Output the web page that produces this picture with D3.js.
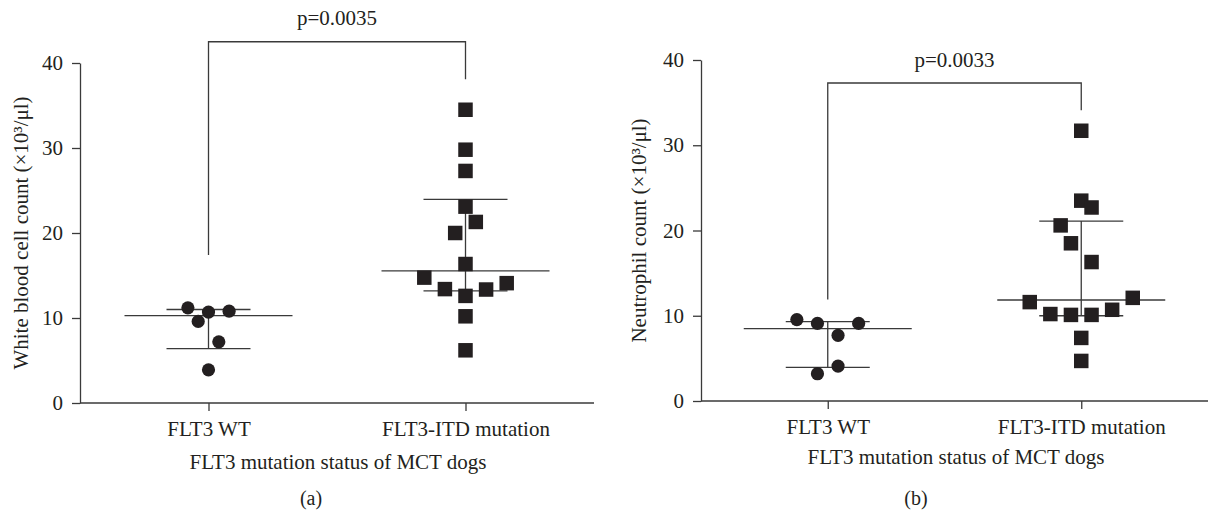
<!DOCTYPE html>
<html>
<head>
<meta charset="utf-8">
<script src="https://cdn.jsdelivr.net/npm/d3@7"></script>
<style>
  body { margin: 0; background: #fff; }
  text { font-family: "Liberation Serif", "Times New Roman", serif; fill: #231f20; }
</style>
</head>
<body>
<div id="chart"></div>
<script>
// Categories and ticks
const groups = ["FLT3 WT", "FLT3-ITD mutation"];
const yTicks = [0, 10, 20, 30, 40];

// (a) white blood cell count, x10^3/ul
const wbcWT = [11.2, 10.7, 10.8, 9.6, 7.2, 3.9];
const wbcWTSlot = [-2, 0, 2, -1, 1, 0];
const wbcITD = [34.5, 29.8, 27.3, 23.1, 21.3, 20.0, 16.35, 14.75, 13.4, 13.35, 14.1, 12.6, 10.2, 6.2];
const wbcITDSlot = [0, 0, 0, 0, 1, -1, 0, -4, -2, 2, 4, 0, 0, 0];
// [median, upper, lower] per group
const wbcSummary = [[10.27, 11.0, 6.4], [15.55, 23.96, 13.18]];
// bracket: top, left leg end, right leg end
const wbcBracket = [42.5, 17.4, 38.1];
const wbcP = "p=0.0035";

// (b) neutrophil count, x10^3/ul
const neuWT = [9.55, 9.1, 9.1, 7.7, 4.1, 3.2];
const neuWTSlot = [-3, -1, 3, 1, 1, -1];
const neuITD = [31.7, 23.5, 22.7, 20.6, 18.5, 16.3, 11.6, 12.1, 10.2, 10.1, 10.1, 10.7, 7.4, 4.7];
const neuITDSlot = [0, 0, 1, -2, -1, 1, -5, 5, -3, -1, 1, 3, 0, 0];
const neuSummary = [[8.5, 9.3, 3.95], [11.85, 21.1, 10.0]];
const neuBracket = [37.3, 11.9, 34.1];
const neuP = "p=0.0033";

const ink = "#231f20";
const lineCol = "#3a3a3a";
const fs = 21;

const svg = d3.select("#chart")
  .append("svg")
  .attr("width", 1208)
  .attr("height", 511);

// Draw one panel
const drawPanel = (p) => {
  const g = svg.append("g");

  const xScale = d3.scalePoint()
    .domain(groups)
    .range([p.left, p.right])
    .padding(0.5);

  const yScale = d3.scaleLinear()
    .domain([0, 40])
    .range([p.bottom, p.top]);

  const slotScale = d3.scaleLinear()
    .domain([0, 1])
    .range([0, 10.3]);

  // axes
  const yAxis = g.append("g")
    .attr("transform", `translate(${p.left},0)`)
    .call(d3.axisLeft(yScale).tickValues(yTicks).tickSize(8).tickSizeOuter(0).tickPadding(9));

  const xAxis = g.append("g")
    .attr("transform", `translate(0,${p.bottom})`)
    .call(d3.axisBottom(xScale).tickSize(8).tickSizeOuter(0).tickPadding(10));
  xAxis.select(".domain").attr("d", `M${p.left},0H${p.right}`);

  [yAxis, xAxis].forEach(a => {
    a.selectAll("path, line").attr("stroke", lineCol).attr("stroke-width", 1.3);
    a.selectAll("text")
      .attr("font-size", fs)
      .attr("font-family", "Liberation Serif")
      .attr("fill", ink);
  });

  // summary lines: long median, short whiskers, vertical bar
  p.summary.forEach((s, i) => {
    const cx = xScale(groups[i]);
    g.append("line")
      .attr("x1", cx - 84).attr("x2", cx + 84)
      .attr("y1", yScale(s[0])).attr("y2", yScale(s[0]))
      .attr("stroke", lineCol).attr("stroke-width", 1.3);
    [s[1], s[2]].forEach(v => {
      g.append("line")
        .attr("x1", cx - 42).attr("x2", cx + 42)
        .attr("y1", yScale(v)).attr("y2", yScale(v))
        .attr("stroke", lineCol).attr("stroke-width", 1.3);
    });
    g.append("line")
      .attr("x1", cx).attr("x2", cx)
      .attr("y1", yScale(s[1])).attr("y2", yScale(s[2]))
      .attr("stroke", lineCol).attr("stroke-width", 1.3);
  });

  // circles for WT
  const wt = p.wt.map((v, i) => ({ v, s: p.wtSlot[i] }));
  g.selectAll("circle")
    .data(wt)
    .join("circle")
      .attr("cx", d => xScale(groups[0]) + slotScale(d.s))
      .attr("cy", d => yScale(d.v))
      .attr("r", 6.6)
      .attr("fill", ink);

  // squares for ITD
  const sq = 14.5;
  const itd = p.itd.map((v, i) => ({ v, s: p.itdSlot[i] }));
  g.selectAll("rect.pt")
    .data(itd)
    .join("rect")
      .attr("class", "pt")
      .attr("x", d => xScale(groups[1]) + slotScale(d.s) - sq / 2)
      .attr("y", d => yScale(d.v) - sq / 2)
      .attr("width", sq)
      .attr("height", sq)
      .attr("fill", ink);

  // significance bracket
  const bx0 = xScale(groups[0]), bx1 = xScale(groups[1]);
  g.append("path")
    .attr("d", `M${bx0},${yScale(p.bracket[1])}V${yScale(p.bracket[0])}H${bx1}V${yScale(p.bracket[2])}`)
    .attr("fill", "none")
    .attr("stroke", lineCol)
    .attr("stroke-width", 1.3);

  g.append("text")
    .attr("x", (bx0 + bx1) / 2)
    .attr("y", p.pY)
    .attr("text-anchor", "middle")
    .attr("font-size", fs)
    .text(p.pText);

  // axis titles
  g.append("text")
    .attr("transform", `translate(${p.yTitleX},${(p.top + p.bottom) / 2}) rotate(-90)`)
    .attr("text-anchor", "middle")
    .attr("dy", "0.35em")
    .attr("font-size", fs)
    .text(p.yTitle);

  g.append("text")
    .attr("x", p.xTitleX)
    .attr("y", p.xTitleY)
    .attr("text-anchor", "middle")
    .attr("font-size", fs)
    .text("FLT3 mutation status of MCT dogs");

  g.append("text")
    .attr("x", p.tagX)
    .attr("y", 505)
    .attr("text-anchor", "middle")
    .attr("font-size", 20)
    .text(p.tag);
};

drawPanel({
  left: 80, right: 594, top: 63, bottom: 403,
  wt: wbcWT, wtSlot: wbcWTSlot, itd: wbcITD, itdSlot: wbcITDSlot,
  summary: wbcSummary, bracket: wbcBracket, pText: wbcP, pY: 25,
  yTitle: "White blood cell count (×10³/μl)", yTitleX: 21,
  xTitleX: 338, xTitleY: 469, tagX: 311, tag: "(a)"
});

drawPanel({
  left: 701, right: 1208, top: 60, bottom: 401,
  wt: neuWT, wtSlot: neuWTSlot, itd: neuITD, itdSlot: neuITDSlot,
  summary: neuSummary, bracket: neuBracket, pText: neuP, pY: 67,
  yTitle: "Neutrophil count (×10³/μl)", yTitleX: 639,
  xTitleX: 956, xTitleY: 464, tagX: 916, tag: "(b)"
});
</script>
</body>
</html>
